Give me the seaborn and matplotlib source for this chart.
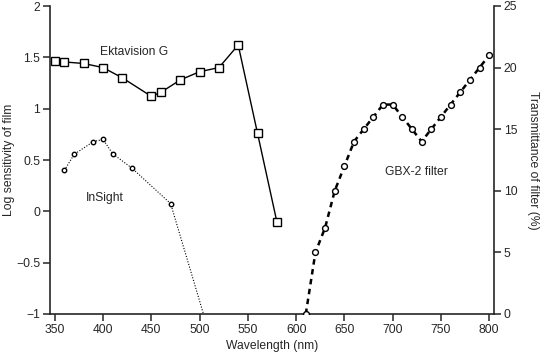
import matplotlib
matplotlib.use("Agg")
import matplotlib.pyplot as plt
import seaborn as sns
import pandas as pd

# Ektavision G film sensitivity (log)
ekta_nm = [350, 360, 380, 400, 420, 450, 460, 480, 500, 520, 540, 560, 580]
ekta_log = [1.46, 1.455, 1.44, 1.40, 1.30, 1.12, 1.16, 1.28, 1.36, 1.40, 1.62, 0.76, -0.10]

# InSight film sensitivity (log); last point runs off the bottom
insight_nm = [360, 370, 390, 400, 410, 430, 470, 510]
insight_log = [0.40, 0.555, 0.68, 0.70, 0.56, 0.42, 0.075, -1.19]

# GBX-2 filter transmittance (%)
gbx_nm = [610, 620, 630, 640, 650, 660, 670, 680, 690, 700, 710, 720,
          730, 740, 750, 760, 770, 780, 790, 800]
gbx_pct = [0, 5, 7, 10, 12, 14, 15, 16, 17, 17, 16, 15,
           14, 15, 16, 17, 18, 19, 20, 21]

sns.set_style("ticks")
plt.rcParams['font.family'] = ['Liberation Sans', 'DejaVu Sans']
FS = 8.7

fig = plt.figure(figsize=(5.41, 3.56), dpi=100)
ax = fig.add_axes([50 / 541, 1 - 314 / 356, 444 / 541, 308 / 356])
ax2 = ax.twinx()

ekta = pd.DataFrame({'nm': ekta_nm, 'val': ekta_log})
ins = pd.DataFrame({'nm': insight_nm, 'val': insight_log})
gbx = pd.DataFrame({'nm': gbx_nm, 'val': gbx_pct})

sns.lineplot(data=ekta, x='nm', y='val', ax=ax, color='black', lw=1.0,
             marker='s', markersize=5.2, markerfacecolor='white',
             markeredgecolor='black', markeredgewidth=1.0)
sns.lineplot(data=ins, x='nm', y='val', ax=ax, color='black', lw=0.8,
             linestyle=(0, (1, 1.5)), marker='o', markersize=3.2,
             markerfacecolor='white', markeredgecolor='black',
             markeredgewidth=1.0)
sns.lineplot(data=gbx, x='nm', y='val', ax=ax2, color='black', lw=1.8,
             linestyle=(0, (2.2, 1.8)), marker='o', markersize=4.2,
             markerfacecolor='white', markeredgecolor='black',
             markeredgewidth=1.0)

ax.set_xlim(345, 805)
ax.set_ylim(-1, 2)
ax2.set_ylim(0, 25)
ax.set_xticks(range(350, 801, 50))
ax.set_yticks([-1, -0.5, 0, 0.5, 1, 1.5, 2])
ax.set_yticklabels(['\u22121', '\u22120.5', '0', '0.5', '1', '1.5', '2'])
ax2.set_yticks(range(0, 26, 5))

ax.set_xlabel('Wavelength (nm)', fontsize=FS, labelpad=3)
ax.set_ylabel('Log sensitivity of film', fontsize=FS, va='center')
ax2.set_ylabel('Transmittance of filter (%)', fontsize=FS, rotation=270,
               va='center')
ax.yaxis.set_label_coords(-0.092, 0.5)
ax2.yaxis.set_label_coords(1.088, 0.5)

for a in (ax, ax2):
    a.spines['top'].set_visible(False)
    a.tick_params(labelsize=FS, length=5, width=1.1, direction='out', pad=2)
    for s in a.spines.values():
        s.set_linewidth(1.2)
ax.spines['right'].set_visible(False)
ax2.spines['left'].set_visible(False)
ax2.spines['bottom'].set_visible(False)

ax.text(432, 1.55, 'Ektavision G', fontsize=FS, ha='center', va='center')
ax.text(402, 0.13, 'InSight', fontsize=FS, ha='center', va='center')
ax2.text(725, 11.5, 'GBX-2 filter', fontsize=FS, ha='center', va='center')

fig.savefig('out.png', dpi=100)
